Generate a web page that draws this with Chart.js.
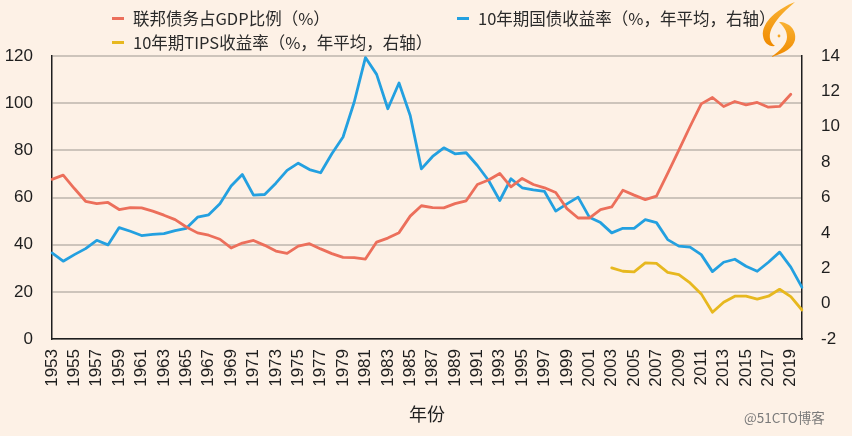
<!DOCTYPE html>
<html lang="zh-CN">
<head>
<meta charset="utf-8">
<title>联邦债务与10年期收益率</title>
<script src="https://cdn.jsdelivr.net/npm/chart.js@4.4.1/dist/chart.umd.min.js"></script>
<style>
    html, body {
        margin: 0;
        padding: 0;
        background: #fdf1e6;
    }

    .wrap {
        position: relative;
        width: 852px;
        height: 436px;
        overflow: hidden;
        background: #fdf1e6;
        font-family: 'Noto Sans CJK SC', 'Noto Sans', sans-serif;
    }

    .wrap canvas {
        position: absolute;
        left: 0;
        top: 0;
    }

    .legend-item {
        position: absolute;
        font-size: 16.5px;
        color: #2a2a2a;
        line-height: 20px;
        white-space: nowrap;
    }

    .legend-item__mark {
        position: absolute;
        left: -21px;
        top: 9px;
        width: 12px;
        height: 3px;
    }

    .logo {
        position: absolute;
        left: 757px;
        top: 0;
    }

    .watermark {
        position: absolute;
        left: 744px;
        top: 407px;
        font-size: 13.5px;
        color: #7a7a7a;
        white-space: nowrap;
    }
</style>
</head>
<body>
<div class="wrap">
    <canvas id="chart" width="852" height="436"></canvas>

    <div class="legend-item" style="left:133px; top:8px;">
        <span class="legend-item__mark" style="background:#ec6f5b;"></span>联邦债务占GDP比例（%）
    </div>
    <div class="legend-item" style="left:478px; top:8px;">
        <span class="legend-item__mark" style="background:#23a0e0;"></span>10年期国债收益率（%，年平均，右轴）
    </div>
    <div class="legend-item" style="left:133px; top:32px;">
        <span class="legend-item__mark" style="background:#e7b81f;"></span>10年期TIPS收益率（%，年平均，右轴）
    </div>

    <svg class="logo" width="44" height="58" viewBox="0 0 44 58">
        <defs>
            <linearGradient id="logoGrad" x1="0" y1="0" x2="0" y2="1">
                <stop offset="0" stop-color="#f9b233"/>
                <stop offset="1" stop-color="#f08a00"/>
            </linearGradient>
        </defs>
        <path d="M38,2 C22,8 4,22 6,36 C7,43 12,47 18,46 C12,42 11,34 16,26 C21,17 30,9 38,2 Z" fill="url(#logoGrad)"/>
        <path d="M22,22 C32,22 40,30 38,40 C36,48 28,53 14,57 C24,50 30,44 30,37 C30,30 26,26 22,22 Z" fill="url(#logoGrad)"/>
        <circle cx="22" cy="36" r="1.4" fill="#f6a623"/>
    </svg>

    <div class="watermark">@51CTO博客</div>
</div>

<script>
'use strict';

// =========================================================
// DATA
// =========================================================

const years = [
    '1953', '1954', '1955', '1956', '1957', '1958', '1959', '1960', '1961', '1962',
    '1963', '1964', '1965', '1966', '1967', '1968', '1969', '1970', '1971', '1972',
    '1973', '1974', '1975', '1976', '1977', '1978', '1979', '1980', '1981', '1982',
    '1983', '1984', '1985', '1986', '1987', '1988', '1989', '1990', '1991', '1992',
    '1993', '1994', '1995', '1996', '1997', '1998', '1999', '2000', '2001', '2002',
    '2003', '2004', '2005', '2006', '2007', '2008', '2009', '2010', '2011', '2012',
    '2013', '2014', '2015', '2016', '2017', '2018', '2019', '2020',
];

// 联邦债务占GDP比例 (%), 1953-2019, left axis
const debtToGdp = [
    67.7, 69.5, 63.8, 58.4, 57.4, 57.9, 54.9, 55.7, 55.6, 54.2,
    52.5, 50.6, 47.5, 45.0, 44.0, 42.3, 38.6, 40.7, 41.8, 39.7,
    37.3, 36.3, 39.4, 40.4, 38.2, 36.2, 34.6, 34.5, 33.9, 41.1,
    42.8, 45.1, 52.1, 56.5, 55.7, 55.6, 57.4, 58.6, 65.5, 67.4,
    70.2, 64.5, 68.1, 65.5, 64.1, 62.1, 55.3, 51.3, 51.3, 54.9,
    56.0, 63.1, 61.0, 59.1, 60.6, 70.2, 80.1, 90.1, 99.7, 102.4,
    98.6, 100.7, 99.3, 100.3, 98.3, 98.6, 103.8,
];

// 10年期国债收益率 (%), 1953-2020, right axis
const treasuryYield = [
    2.87, 2.40, 2.77, 3.11, 3.58, 3.32, 4.30, 4.09, 3.85, 3.91,
    3.96, 4.13, 4.26, 4.89, 5.02, 5.64, 6.65, 7.30, 6.13, 6.17,
    6.81, 7.53, 7.94, 7.58, 7.40, 8.47, 9.42, 11.40, 13.91, 12.96,
    11.02, 12.47, 10.64, 7.62, 8.32, 8.81, 8.47, 8.53, 7.81, 6.96,
    5.83, 7.06, 6.55, 6.43, 6.34, 5.23, 5.64, 6.02, 4.89, 4.58,
    4.00, 4.26, 4.26, 4.75, 4.58, 3.62, 3.25, 3.19, 2.77, 1.81,
    2.34, 2.51, 2.11, 1.83, 2.34, 2.91, 2.06, 0.92,
];

// 10年期TIPS收益率 (%), 2003-2020, right axis
const tipsYears = [
    '2003', '2004', '2005', '2006', '2007', '2008', '2009', '2010', '2011',
    '2012', '2013', '2014', '2015', '2016', '2017', '2018', '2019', '2020',
];
const tipsYield = [
    2.02, 1.83, 1.79, 2.30, 2.28, 1.77, 1.64, 1.17, 0.55,
    -0.49, 0.08, 0.42, 0.42, 0.25, 0.42, 0.81, 0.40, -0.36,
];

const leftTicks = [0, 20, 40, 60, 80, 100, 120];
const rightTicks = [-2, 0, 2, 4, 6, 8, 10, 12, 14];


// =========================================================
// STYLE
// =========================================================

const RED = '#ec6f5b';
const BLUE = '#23a0e0';
const YELLOW = '#e7b81f';
const GRID = '#cdc4bb';
const AXIS = '#1e1e1e';
const TEXT = '#1e1e1e';
const TICK_FONT = { family: "'Liberation Sans', Arial, sans-serif", size: 17 };


// =========================================================
// CHART
// =========================================================

const renderChart = () => {
    const canvas = document.querySelector('#chart');

    const tipsPoints = tipsYears.map((year, index) => ({ x: year, y: tipsYield[index] }));

    new Chart(canvas, {
        type: 'line',
        data: {
            labels: years,
            datasets: [
                {
                    label: '联邦债务占GDP比例（%）',
                    data: debtToGdp,
                    yAxisID: 'y',
                    borderColor: RED,
                    borderWidth: 2.8,
                },
                {
                    label: '10年期国债收益率（%，年平均，右轴）',
                    data: treasuryYield,
                    yAxisID: 'y1',
                    borderColor: BLUE,
                    borderWidth: 2.8,
                },
                {
                    label: '10年期TIPS收益率（%，年平均，右轴）',
                    data: tipsPoints,
                    yAxisID: 'y1',
                    borderColor: YELLOW,
                    borderWidth: 2.8,
                },
            ],
        },
        options: {
            responsive: false,
            animation: false,
            devicePixelRatio: 1,

            elements: {
                point: { radius: 0 },
                line: { tension: 0, borderJoinStyle: 'round', borderCapStyle: 'round' },
            },

            layout: {
                padding: { top: 56, bottom: 11, left: 0, right: 0 },
            },

            plugins: {
                legend: { display: false },
                tooltip: { enabled: false },
            },

            scales: {
                x: {
                    type: 'category',
                    offset: false,
                    grid: { display: false, drawTicks: false },
                    border: { display: true, color: AXIS, width: 1.5 },
                    ticks: {
                        autoSkip: false,
                        minRotation: 90,
                        maxRotation: 90,
                        padding: 10,
                        color: TEXT,
                        font: TICK_FONT,
                        callback: (value, index) => (index % 2 === 0 ? years[index] : ''),
                    },
                    title: {
                        display: true,
                        text: '年份',
                        color: TEXT,
                        padding: 0,
                        font: { family: "'Noto Sans CJK SC', sans-serif", size: 18 },
                    },
                    afterFit: (scale) => {
                        scale.height = 86;
                    },
                },

                y: {
                    type: 'linear',
                    position: 'left',
                    min: 0,
                    max: 120,
                    grid: { color: GRID, lineWidth: 2, drawTicks: false },
                    border: { display: true, color: AXIS, width: 1.5 },
                    afterBuildTicks: (scale) => {
                        scale.ticks = leftTicks.map((value) => ({ value }));
                    },
                    ticks: {
                        padding: 19,
                        color: TEXT,
                        font: TICK_FONT,
                    },
                    afterFit: (scale) => {
                        scale.width = 52;
                    },
                },

                y1: {
                    type: 'linear',
                    position: 'right',
                    min: -2,
                    max: 14,
                    grid: { drawOnChartArea: false, drawTicks: false },
                    border: { display: true, color: AXIS, width: 1.5 },
                    afterBuildTicks: (scale) => {
                        scale.ticks = rightTicks.map((value) => ({ value }));
                    },
                    ticks: {
                        padding: 19,
                        color: TEXT,
                        font: TICK_FONT,
                    },
                    afterFit: (scale) => {
                        scale.width = 50;
                    },
                },
            },
        },
    });
};


// =========================================================
// INIT
// =========================================================

document.addEventListener('DOMContentLoaded', renderChart);
</script>
</body>
</html>
